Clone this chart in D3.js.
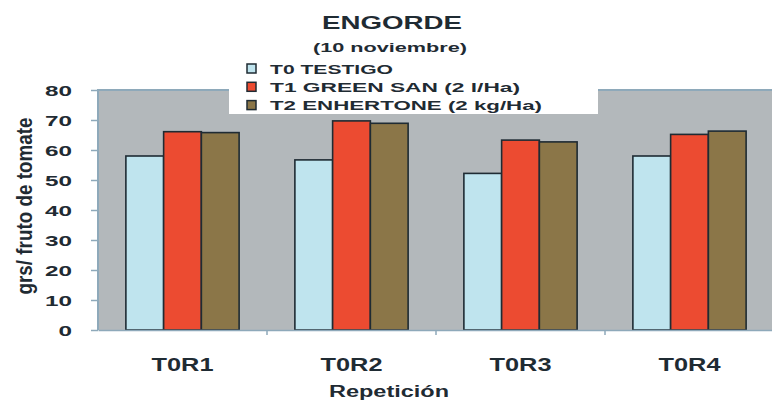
<!DOCTYPE html>
<html>
<head>
<meta charset="utf-8">
<script src="https://cdn.jsdelivr.net/npm/d3@7"></script>
<style>
  body { margin: 0; background: #fff; }
  svg { display: block; font-family: "Liberation Sans", Arial, sans-serif; font-weight: bold; }
</style>
</head>
<body>
<svg width="772" height="401"></svg>
<script>
// data
var categories = ["T0R1", "T0R2", "T0R3", "T0R4"]
var seriesNames = ["T0 TESTIGO", "T1 GREEN SAN (2 l/Ha)", "T2 ENHERTONE (2 kg/Ha)"]
var t0 = [58, 56.7, 52.2, 58]
var t1 = [66.1, 69.7, 63.3, 65.2]
var t2 = [65.8, 68.9, 62.7, 66.3]
var yTicks = [0, 10, 20, 30, 40, 50, 60, 70, 80]
var colors = ["#bfe4ee", "#ec4b31", "#8b7648"]

var series = [t0, t1, t2]
var ink = "#1f2b33"

// the picture is squeezed wide, so text is pulled out to the measured width
function fit(sel, w) {
    return sel.attr("textLength", w).attr("lengthAdjust", "spacingAndGlyphs")
}

var svg = d3.select("svg"),
    margin = {left: 98, top: 90, right: -2, bottom: 71},
    width = 772 - margin.left - margin.right,
    height = 401 - margin.top - margin.bottom;

var x0 = d3.scaleBand().domain(categories).range([0, width])
    .paddingInner(0.33).paddingOuter(0.165)
var x1 = d3.scaleBand().domain(d3.range(series.length)).range([0, x0.bandwidth()])
var y = d3.scaleLinear().domain([0, 80]).range([height, 0])

var g = svg.append("g")
    .attr("transform", "translate(" + margin.left + "," + margin.top + ")")

// plot background
g.append("rect")
    .attr("x", 0).attr("y", 0)
    .attr("width", width).attr("height", height)
    .attr("fill", "#b3b8bb")
g.append("path")
    .attr("d", "M0," + height + "V0H" + width)
    .attr("fill", "none").attr("stroke", "#8ea9ba").attr("stroke-width", 2)

// bars
var groups = g.selectAll(".grp")
    .data(categories)
    .enter().append("g")
    .attr("class", "grp")
    .attr("transform", function (d) { return "translate(" + x0(d) + ",0)"; })

groups.selectAll("rect")
    .data(function (d, i) {
        return series.map(function (s, k) { return {k: k, value: s[i]}; });
    })
    .enter().append("rect")
    .attr("x", function (d) { return x1(d.k); })
    .attr("y", function (d) { return y(d.value); })
    .attr("width", x1.bandwidth())
    .attr("height", function (d) { return height - y(d.value); })
    .attr("fill", function (d) { return colors[d.k]; })
    .attr("stroke", ink)
    .attr("stroke-width", 1.6)

// y axis
var yAxis = g.append("g")
    .call(d3.axisLeft(y).tickValues(yTicks).tickSize(7).tickPadding(0))
yAxis.select(".domain").remove()
yAxis.selectAll("line").attr("stroke", "#8ea9ba").attr("stroke-width", 1.5)
yAxis.selectAll("text")
    .attr("x", -26).attr("dy", "0.36em")
    .attr("fill", ink)
    .attr("font-size", 15.5)
    .attr("text-anchor", "end")
    .each(function (d) { fit(d3.select(this), String(d).length * 13.5); })

// x axis
var xAxis = g.append("g")
    .attr("transform", "translate(0," + height + ")")
    .call(d3.axisBottom(x0).tickSize(0).tickPadding(0))
xAxis.select(".domain").attr("stroke", "#8ea9ba").attr("stroke-width", 1.5)
fit(xAxis.selectAll("text")
    .attr("y", 41).attr("dy", 0)
    .attr("fill", ink)
    .attr("font-size", 17.5), 62)

// tick marks between the groups
xAxis.selectAll(".sep")
    .data(categories.slice(1))
    .enter().append("line")
    .attr("class", "sep")
    .attr("x1", function (d) { return x0(d) - x0.step() * x0.paddingInner() / 2; })
    .attr("x2", function (d) { return x0(d) - x0.step() * x0.paddingInner() / 2; })
    .attr("y1", 0).attr("y2", 5)
    .attr("stroke", "#8ea9ba").attr("stroke-width", 1.5)

// titles
function title(px, py, txt, size, w) {
    return fit(svg.append("text")
        .attr("x", px).attr("y", py)
        .attr("text-anchor", "middle")
        .attr("font-size", size)
        .attr("fill", ink)
        .text(txt), w)
}
title(392, 29, "ENGORDE", 19, 140)
title(390, 52, "(10 noviembre)", 13, 154)
title(389, 397, "Repetición", 16, 120)

fit(svg.append("text")
    .attr("transform", "translate(32,206) scale(1.45,1) rotate(-90)")
    .attr("text-anchor", "middle")
    .attr("font-size", 15.5)
    .attr("fill", ink)
    .text("grs/ fruto de tomate"), 177)

// legend
var legend = svg.append("g")
legend.append("rect")
    .attr("x", 229).attr("y", 56)
    .attr("width", 369).attr("height", 58)
    .attr("fill", "#fff")

var legendWidths = [123, 250, 272]
var items = legend.selectAll(".item")
    .data(seriesNames)
    .enter().append("g")
    .attr("class", "item")
    .attr("transform", function (d, i) { return "translate(247," + (64 + i * 18.3) + ")"; })
items.append("rect")
    .attr("width", 9).attr("height", 9)
    .attr("fill", function (d, i) { return colors[i]; })
    .attr("stroke", ink).attr("stroke-width", 1.5)
items.append("text")
    .attr("x", 23).attr("y", 9.5)
    .attr("font-size", 13.5)
    .attr("fill", ink)
    .attr("textLength", function (d, i) { return legendWidths[i]; })
    .attr("lengthAdjust", "spacingAndGlyphs")
    .text(function (d) { return d; })
</script>
</body>
</html>
